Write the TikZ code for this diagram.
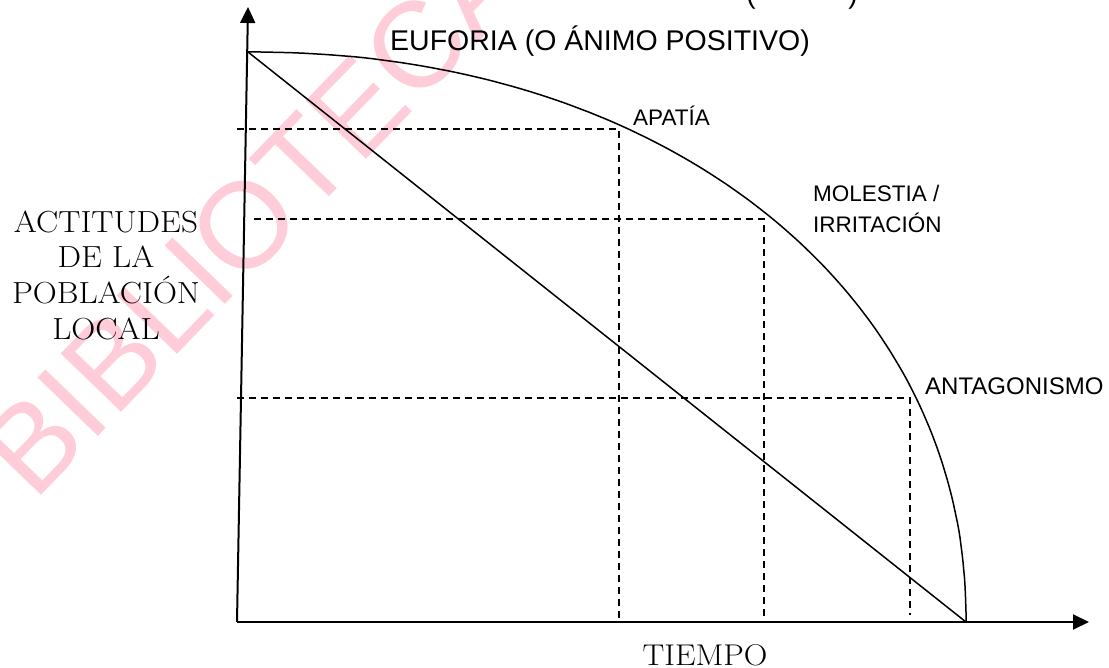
\documentclass[tikz,border=0pt]{standalone}
\usepackage{fontspec}
\newfontfamily\arial{Liberation Sans}
\usetikzlibrary{arrows.meta}
\definecolor{wm}{RGB}{255,204,217}
\begin{document}
\begin{tikzpicture}[x=1pt,y=-1pt,
  axis/.style={line width=2pt,-{Triangle[length=16pt,width=15pt]}},
  curveline/.style={line width=1.5pt},
  guide/.style={line width=1.3pt,dash pattern=on 7pt off 5pt},
  lab/.style={font=\arial\fontsize{22.5}{26}\selectfont,inner sep=0pt,anchor=base west},
  serif/.style={font=\fontsize{30.5}{34}\selectfont,inner sep=0pt,anchor=base,xscale=1.09}]
\path[use as bounding box] (0,0) rectangle (1109,668);
\begin{scope}
\clip (0,0) rectangle (1109,668);
\node[rotate=46, anchor=base west, inner sep=0pt, text=wm,
  font=\arial\fontsize{122}{122}\selectfont] (wmark) at (34,503) {BIBLIOTECA};
\node[anchor=base, inner sep=0pt, font=\arial\fontsize{28}{28}\selectfont] (lpar) at (751,4) {(};
\node[anchor=base, inner sep=0pt, font=\arial\fontsize{28}{28}\selectfont] (rpar) at (853,4) {)};
\end{scope}
% key points
\coordinate (O) at (237,622);
\coordinate (ytip) at (248,7);
\coordinate (xtip) at (1089,622);
\coordinate (S) at (248,52);
\coordinate (E) at (966,622);
% axes
\draw[axis] (O) -- (ytip);
\draw[axis] (O) -- (xtip);
% guides
\draw[guide] (237,129) -| (619,622);
\draw[guide] (254,219) -| (764,622);
\draw[guide] (237,398) -| (910,615);
% lines
\draw[curveline] (S) -- (E);
\draw[curveline] (S) -- plot[domain=0.01:89.99,samples=120]
  ({248+718*(sin(\x))^0.952},{622-570*(cos(\x))^0.952}) -- (E);
% labels
\node[lab,font=\arial\fontsize{28.5}{30}\selectfont] (euf) at (390,51) {EUFORIA (O ÁNIMO POSITIVO)};
\node[lab] (apa) at (633,126) {APATÍA};
\node[lab] (mol1) at (813,202) {MOLESTIA /};
\node[lab] (mol2) at (813,233) {IRRITACIÓN};
\node[lab,font=\arial\fontsize{24}{26}\selectfont] (ant) at (925,395) {ANTAGONISMO};
\node[serif] (act1) at (106,233) {ACTITUDES};
\node[serif] (act2) at (106,268) {DE LA};
\node[serif] (act3) at (106,304) {POBLACIÓN};
\node[serif] (act4) at (106,340) {LOCAL};
\node[serif,font=\fontsize{30}{32}\selectfont] (tiempo) at (705,665) {TIEMPO};
\end{tikzpicture}
\end{document}
